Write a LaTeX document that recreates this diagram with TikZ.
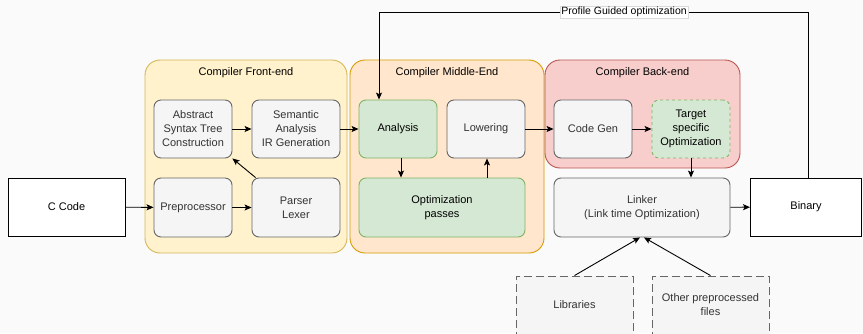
\documentclass[tikz,border=0pt]{standalone}
\usepackage{fontspec}
\setmainfont{Liberation Sans}
\usetikzlibrary{arrows.meta,positioning}
\definecolor{bg}{HTML}{FAFAFA}
\definecolor{feF}{HTML}{FFF2CC}\definecolor{feD}{HTML}{D6B656}
\definecolor{meF}{HTML}{FFE6CC}\definecolor{meD}{HTML}{D79B00}
\definecolor{beF}{HTML}{F8CECC}\definecolor{beD}{HTML}{B85450}
\definecolor{grF}{HTML}{F5F5F5}\definecolor{grD}{HTML}{666666}\definecolor{grT}{HTML}{333333}
\definecolor{gnF}{HTML}{D5E8D4}\definecolor{gnD}{HTML}{82B366}
\tikzset{
  container/.style={draw, line width=0.9pt, rounded corners=15pt, inner sep=0pt},
  greybox/.style={draw=grD, fill=grF, text=grT, line width=0.9pt, rounded corners=7pt, align=center, inner sep=0pt, font=\fontsize{11}{14}\selectfont},
  greenbox/.style={draw=gnD, fill=gnF, text=black, line width=0.9pt, rounded corners=7pt, align=center, inner sep=0pt, font=\fontsize{11}{14}\selectfont},
  plainbox/.style={draw=black, fill=white, line width=0.9pt, align=center, inner sep=0pt, font=\fontsize{11}{14}\selectfont},
  extbox/.style={draw=grD, fill=grF, text=grT, line width=0.9pt, dash pattern=on 8pt off 4pt, align=center, inner sep=0pt, font=\fontsize{11}{14}\selectfont},
  title/.style={font=\fontsize{11}{14}\selectfont, text=black, inner sep=0pt},
  conn/.style={draw=black, line width=0.9pt, -{Stealth[length=7pt,width=6pt,inset=1.5pt]}},
}
\begin{document}
\begin{tikzpicture}[x=1pt,y=-1pt]
\useasboundingbox (0,0) rectangle (863,333);
\fill[bg] (0,0) rectangle (863,333);
\clip (0,0) rectangle (863,333);
% containers
\node[container, draw=feD, fill=feF, minimum width=202, minimum height=193] (fe) at (246,156.5) {};
\node[container, draw=meD, fill=meF, minimum width=194, minimum height=193] (me) at (447,156.5) {};
\node[container, draw=beD, fill=beF, minimum width=195, minimum height=108] (be) at (642.5,114) {};
\node[title] (fet) at ([yshift=-13]fe.north) {Compiler Front-end};
\node[title] (met) at ([yshift=-13]me.north) {Compiler Middle-End};
\node[title] (bet) at ([yshift=-13]be.north) {Compiler Back-end};
% nodes
\node[plainbox, minimum width=117, minimum height=58] (cc) at (66.5,207) {C Code};
\node[greybox, minimum width=78, minimum height=58] (ast) at (193,129) {Abstract\\Syntax Tree\\Construction};
\node[greybox, minimum width=88, minimum height=58] (sem) at (296,129) {Semantic\\Analysis\\IR Generation};
\node[greybox, minimum width=78, minimum height=59] (pre) at (193,207.5) {Preprocessor};
\node[greybox, minimum width=88, minimum height=59] (par) at (296,207.5) {Parser\\Lexer};
\node[greenbox, minimum width=78, minimum height=58] (ana) at (398,129) {Analysis};
\node[greybox, minimum width=78, minimum height=58] (low) at (486,129) {Lowering};
\node[greenbox, minimum width=166, minimum height=59] (opt) at (442,207.5) {Optimization\\passes};
\node[greybox, minimum width=78, minimum height=58] (cg) at (593,129) {Code Gen};
\node[greenbox, dash pattern=on 3pt off 3pt, minimum width=78, minimum height=58] (tso) at (691,129) {Target\\specific\\Optimization};
\node[greybox, minimum width=176, minimum height=59] (lnk) at (642,207.5) {Linker\\(Link time Optimization)};
\node[plainbox, minimum width=111, minimum height=58] (bin) at (806,207) {Binary};
\node[extbox, minimum width=117, minimum height=58] (lib) at (574.5,305) {Libraries};
\node[extbox, minimum width=117, minimum height=58] (oth) at (710.5,305) {Other preprocessed\\files};
% connectors
\draw[conn] (cc) -- (pre);
\draw[conn] (pre) -- (par);
\draw[conn] (par.north west) ++(4,0) coordinate (pst) (pst) -- (ast.south east);
\draw[conn] (ast) -- (sem);
\draw[conn] (sem) -- (ana);
\draw[conn] (ana.south) ++(3,0) coordinate (as) (as) -- (as |- opt.north);
\draw[conn] (low.south) ++(1,0) coordinate (ls) (ls |- opt.north) -- (ls);
\draw[conn] (low) -- (cg);
\draw[conn] (cg) -- (tso);
\draw[conn] (tso) -- (tso |- lnk.north);
\draw[conn] (lnk) -- (bin);
\draw[conn] (lib.north) -- ([xshift=-2]lnk.south);
\draw[conn] (oth.north) -- ([xshift=2]lnk.south);
\coordinate (pgoR) at (808,12);
\coordinate (pgoL) at (379,12);
\draw[conn] (bin.north -| pgoR) -- (pgoR) -- (pgoL) -- (pgoL |- ana.north);
\node[fill=white, draw=black!15, line width=0.4pt, inner sep=1pt, font=\fontsize{10.5}{12}\selectfont] (pgo) at (624,12) {Profile Guided optimization};
\end{tikzpicture}
\end{document}
